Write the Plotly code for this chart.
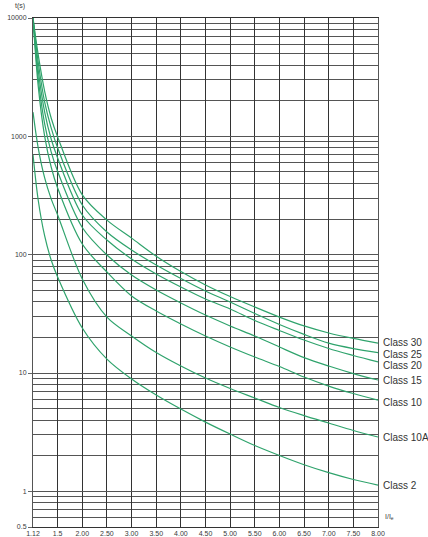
import numpy as np
import plotly.graph_objects as go

# ---------------- data ----------------
current_ratio = [1.12, 1.2, 1.3, 1.4, 1.5, 2.0, 2.5, 3.0, 3.5, 4.0, 4.5, 5.0,
                 5.5, 6.0, 6.5, 7.0, 7.5, 8.0]

x_tick_values = [1.12, 1.5, 2.0, 2.5, 3.0, 3.5, 4.0, 4.5, 5.0, 5.5, 6.0, 6.5,
                 7.0, 7.5, 8.0]
x_tick_labels = ["1.12", "1.5", "2.00", "2.50", "3.00", "3.50", "4.00", "4.50",
                 "5.00", "5.50", "6.00", "6.50", "7.00", "7.50", "8.00"]

y_tick_values = [0.5, 1, 10, 100, 1000, 10000]
y_tick_labels = ["0.5", "1", "10", "100", "1000", "10000"]

class_names = ["Class 30", "Class 25", "Class 20", "Class 15", "Class 10",
               "Class 10A", "Class 2"]

t_class30 = [10000, 4900, 2400, 1430, 990, 320, 196, 138, 97, 72, 55.5, 44.3,
             36.1, 29.7, 25.0, 21.8, 19.6, 17.9]
t_class25 = [10000, 4250, 1950, 1180, 800, 263, 155.6, 109.6, 81.8, 62.9, 49.3,
             39.8, 31.8, 25.7, 21.2, 17.9, 16.1, 14.9]
t_class20 = [10000, 3640, 1600, 950, 657, 216.5, 133, 92, 68.7, 53.3, 42.2,
             34.8, 27.8, 22.9, 19.0, 16.1, 14.06, 12.4]
t_class15 = [10000, 3100, 1273, 738, 505, 169.8, 99.4, 67.3, 50.3, 39.1, 30.9,
             25.0, 20.55, 16.6, 13.5, 11.46, 9.9, 8.73]
t_class10 = [10000, 2670, 1000, 551, 366, 123, 71.4, 44.8, 33.4, 25.96, 20.55,
             16.6, 13.65, 11.35, 9.25, 7.76, 6.71, 5.91]
t_class10a = [1600, 800, 445, 296, 216.5, 62.3, 29.7, 20.55, 14.9, 11.46, 9.07,
              7.4, 6.15, 5.11, 4.37, 3.78, 3.27, 2.88]
t_class2 = [700, 290, 144, 90.2, 64.8, 24.0, 13.1, 8.9, 6.52, 4.96, 3.85, 3.05,
            2.44, 2.01, 1.68, 1.44, 1.26, 1.13]

series = [t_class30, t_class25, t_class20, t_class15, t_class10, t_class10a,
          t_class2]
label_yshift = [1, -1.5, -4, 0, -2.5, 0, 0]

# ---------------- styling ----------------
CURVE = "#2fa36c"
GRID_V = "#333333"
GRID_H = "#555555"
FONT = "Liberation Sans, Arial, sans-serif"
TICK_COLOR = "#3a3a3a"


def to_col(v):
    """Chart's column scale: 1.12..1.5 is one column, then 0.5 per column."""
    v = np.asarray(v, dtype=float)
    return np.where(v < 1.5, (v - 1.12) / 0.38, 1 + (v - 1.5) / 0.5)


xc = to_col(current_ratio)

fig = go.Figure()
for name, t in zip(class_names, series):
    fig.add_trace(go.Scatter(
        x=xc, y=t, mode="lines", name=name,
        line=dict(color=CURVE, width=1.2, shape="spline", smoothing=0.9),
        showlegend=False, hoverinfo="skip"))

# labels at the right end of each curve
for name, t, ys in zip(class_names, series, label_yshift):
    fig.add_annotation(x=1, xref="paper", y=np.log10(t[-1]), yref="y",
                       text=name, showarrow=False, xanchor="left",
                       yanchor="middle", xshift=3, yshift=ys,
                       font=dict(family=FONT, size=10, color="#333333"))

# minor gridlines (2..9 in every decade)
minor_vals = []
for d in range(-1, 4):
    for k in range(2, 10):
        v = k * 10.0 ** d
        if 0.5 < v < 10000:
            minor_vals.append(v)
minor_vals = [v for v in minor_vals if v not in y_tick_values]

fig.update_xaxes(
    range=[0, float(to_col(8.0))], automargin=False,
    tickmode="array", tickvals=to_col(x_tick_values), ticktext=x_tick_labels,
    showgrid=True, gridcolor=GRID_V, gridwidth=1,
    showline=True, linecolor=GRID_V, linewidth=1, mirror=True,
    ticks="", zeroline=False,
    tickfont=dict(family=FONT, size=7, color=TICK_COLOR))

fig.update_yaxes(
    type="log", range=[np.log10(0.5), 4], automargin=False,
    tickmode="array", tickvals=y_tick_values, ticktext=y_tick_labels,
    showgrid=True, gridcolor=GRID_H, gridwidth=1.2,
    minor=dict(tickmode="array", tickvals=minor_vals, showgrid=True,
               gridcolor=GRID_H, gridwidth=1.2, ticks=""),
    showline=True, linecolor=GRID_H, linewidth=1, mirror=True,
    ticks="outside", ticklen=4, tickcolor="#666666", zeroline=False,
    tickfont=dict(family=FONT, size=7, color=TICK_COLOR))

fig.add_annotation(x=-0.038, xref="paper", y=1, yref="paper", yshift=12,
                   text="t(s)", showarrow=False, xanchor="center",
                   yanchor="middle",
                   font=dict(family=FONT, size=7, color=TICK_COLOR))
fig.add_annotation(x=1, xref="paper", y=0, yref="paper", xshift=5, yshift=10,
                   text="I/I<sub>e</sub>", showarrow=False, xanchor="left",
                   yanchor="middle",
                   font=dict(family=FONT, size=7, color=TICK_COLOR))

fig.update_layout(
    width=428, height=537,
    margin=dict(l=33, r=50, t=18, b=10, autoexpand=False),
    paper_bgcolor="white", plot_bgcolor="white",
    showlegend=False)

fig.write_html("out.html",
               config={"displayModeBar": False},
               post_script="document.body.style.margin='0';"
                           "document.body.style.overflow='hidden';")
